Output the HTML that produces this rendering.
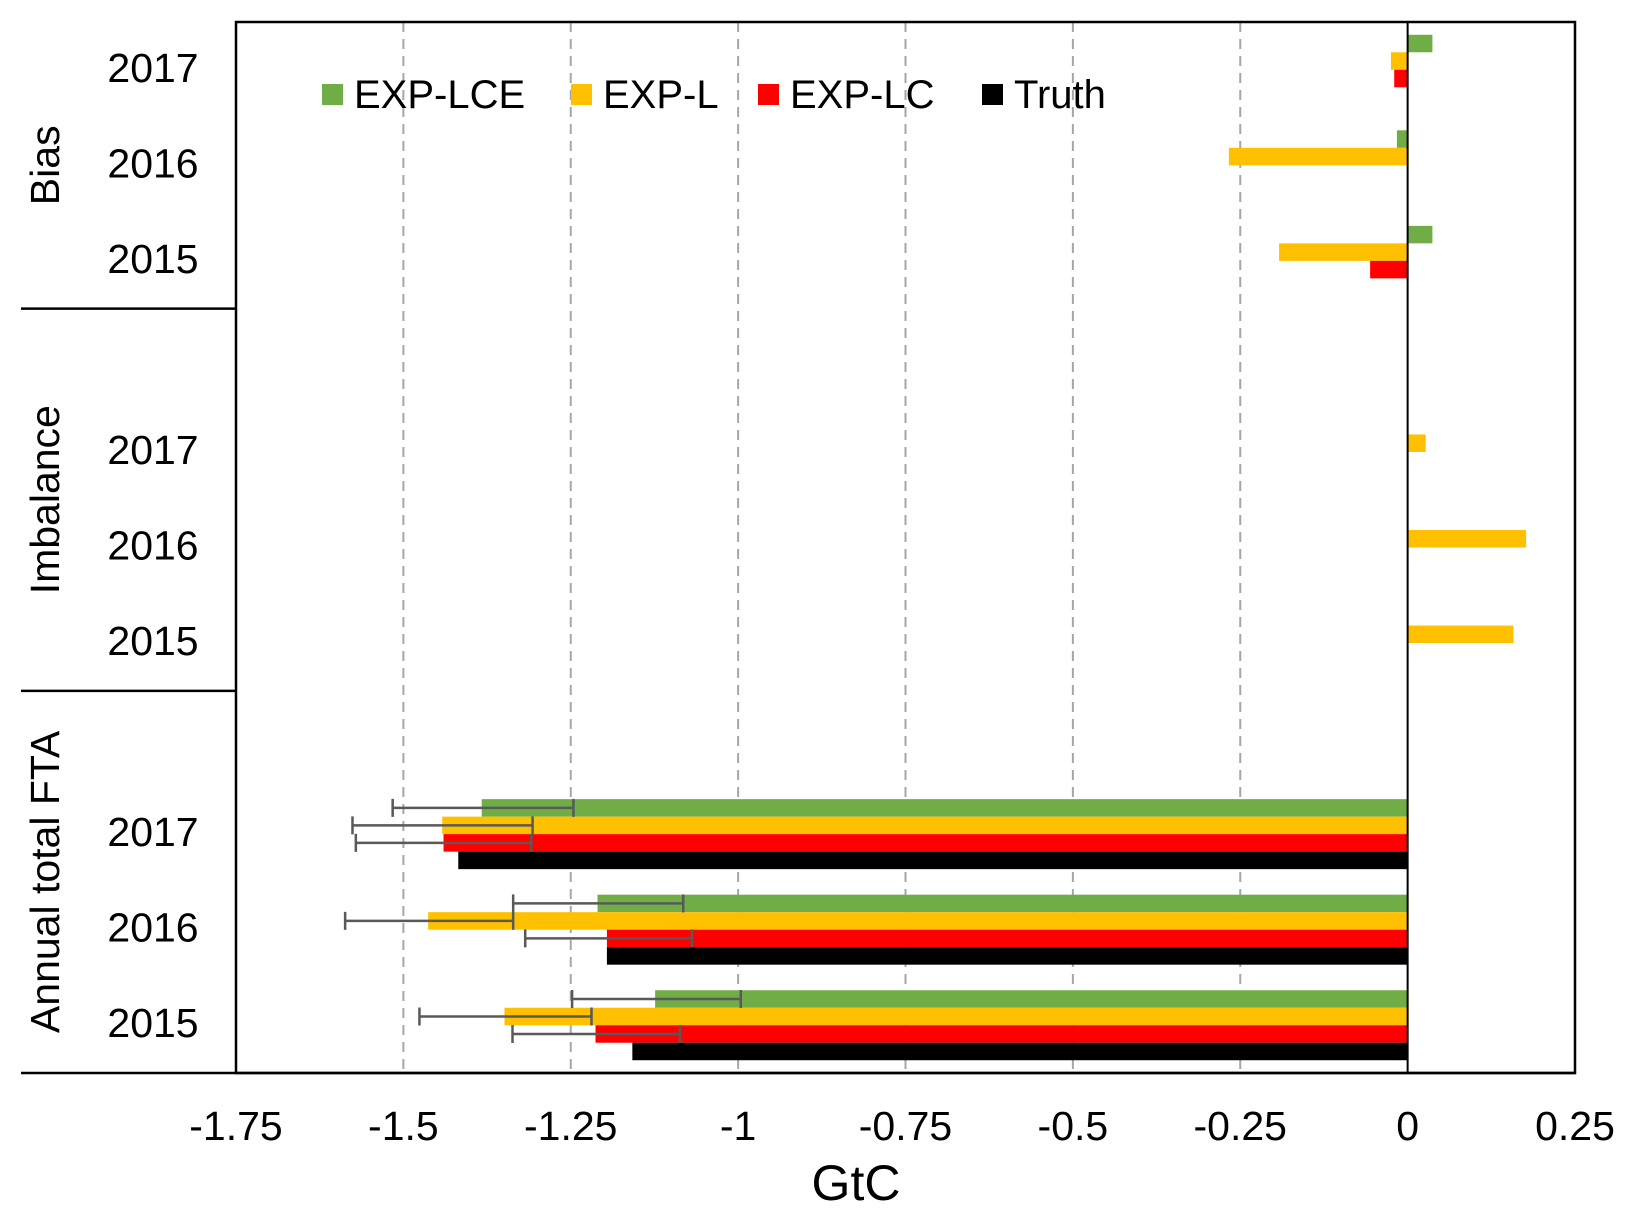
<!DOCTYPE html>
<html><head><meta charset="utf-8"><style>
html,body{margin:0;padding:0;background:#fff;}
svg{display:block;font-family:"Liberation Sans",Arial,sans-serif;}
</style></head><body>
<svg id="chart" width="1634" height="1216" viewBox="0 0 1634 1216" xmlns="http://www.w3.org/2000/svg"></svg>
<script>
const groups = ["Bias","Imbalance","Annual total FTA"];
const years = ["2017","2016","2015"];
const seriesNames = ["EXP-LCE","EXP-L","EXP-LC","Truth"];
const seriesColors = ["#70ad47","#ffc000","#ff0000","#000000"];
// values per row (top to bottom): Bias 2017..2015, Imbalance 2017..2015, FTA 2017..2015
const lceVals = [0.037,-0.016,0.037, 0,0,0, -1.383,-1.210,-1.124];
const lVals   = [-0.025,-0.267,-0.192, 0.027,0.177,0.158, -1.442,-1.463,-1.349];
const lcVals  = [-0.02,0,-0.056, 0,0,0, -1.44,-1.196,-1.213];
const truthVals = [0,0,0, 0,0,0, -1.418,-1.196,-1.158];
const lceErrLo = [null,null,null,null,null,null,-1.516,-1.336,-1.248];
const lceErrHi = [null,null,null,null,null,null,-1.246,-1.082,-0.996];
const lErrLo = [null,null,null,null,null,null,-1.576,-1.587,-1.476];
const lErrHi = [null,null,null,null,null,null,-1.307,-1.336,-1.219];
const lcErrLo = [null,null,null,null,null,null,-1.571,-1.318,-1.337];
const lcErrHi = [null,null,null,null,null,null,-1.309,-1.069,-1.087];
const xTicks = [-1.75,-1.5,-1.25,-1,-0.75,-0.5,-0.25,0,0.25];
const xTickLabels = ["-1.75","-1.5","-1.25","-1","-0.75","-0.5","-0.25","0","0.25"];

const svg = document.getElementById('chart');
const NS = "http://www.w3.org/2000/svg";
const L=236, R=1575, T=22, B=1073;
const xMin=-1.75, xMax=0.25;
const x = v => L + (v - xMin)/(xMax - xMin)*(R-L);
const slotH = (B-T)/11;
const rowSlot = r => r + Math.floor(r/3);
const rowY = r => T + slotH*(rowSlot(r)+0.5);
const barH = 17.5;
function el(tag, attrs, text){const e=document.createElementNS(NS,tag);for(const k in attrs)e.setAttribute(k,attrs[k]);if(text!==undefined)e.textContent=text;svg.appendChild(e);return e;}

xTicks.forEach((t,i)=>{
  if(t>xMin && t<0){
    const g=el('line',{x1:x(t),x2:x(t),y1:T,y2:B,stroke:'#a6a6a6','stroke-width':2,'stroke-dasharray':'10,7'});
    
    
  }
  const tl=el('text',{x:x(t),y:1140,'font-size':41,'text-anchor':'middle'},xTickLabels[i]);
  
  
});

const allVals=[lceVals,lVals,lcVals,truthVals];
const errLo=[lceErrLo,lErrLo,lcErrLo,null];
const errHi=[lceErrHi,lErrHi,lcErrHi,null];
for(let r=0;r<9;r++){
  const cy=rowY(r);
  for(let s=0;s<4;s++){
    const v=allVals[s][r];
    const y0=cy-2*barH+s*barH;
    if(v!==0){
      const b=el('rect',{x:Math.min(x(0),x(v)),y:y0,width:Math.abs(x(v)-x(0)),height:barH,fill:seriesColors[s]});
      
      
    }
  }
  for(let s=0;s<3;s++){
    if(errLo[s][r]===null) continue;
    const yc=cy-2*barH+s*barH+barH/2;
    const a=x(errLo[s][r]), c=x(errHi[s][r]);
    const e=el('path',{d:`M${a},${yc}H${c}M${a},${yc-9}V${yc+9}M${c},${yc-9}V${yc+9}`,stroke:'#595959','stroke-width':2.5,fill:'none'});
    
    
  }
  const yl=el('text',{x:153,y:cy+12,'font-size':41,'text-anchor':'middle'},years[r%3]);
  
  
}
el('line',{x1:x(0),x2:x(0),y1:T,y2:B,stroke:'#000','stroke-width':2});
el('rect',{x:L,y:T,width:R-L,height:B-T,fill:'none',stroke:'#000','stroke-width':2.5});
el('line',{x1:21,x2:R,y1:B,y2:B,stroke:'#000','stroke-width':2.5});
const sepY=[T+3*slotH, T+7*slotH];
sepY.forEach(y=>{el('line',{x1:21,x2:L,y1:y,y2:y,stroke:'#000','stroke-width':2.5});});
const groupBounds=[[T,sepY[0]],[sepY[0],sepY[1]],[sepY[1],B]];
groups.forEach((g,i)=>{
  const cy=(groupBounds[i][0]+groupBounds[i][1])/2;
  const t=el('text',{x:0,y:0,'font-size':41,'text-anchor':'middle',transform:`translate(59,${cy}) rotate(-90)`},g);
  
  
});
const legX=[322,571,758,982];
seriesNames.forEach((n,i)=>{
  const sq=el('rect',{x:legX[i],y:84,width:21,height:21,fill:seriesColors[i]});
  
  
  const t=el('text',{x:legX[i]+32,y:108,'font-size':40},n);
  
  
});
const at=el('text',{x:856,y:1200,'font-size':50,'text-anchor':'middle'},'GtC');


</script>
</body></html>
